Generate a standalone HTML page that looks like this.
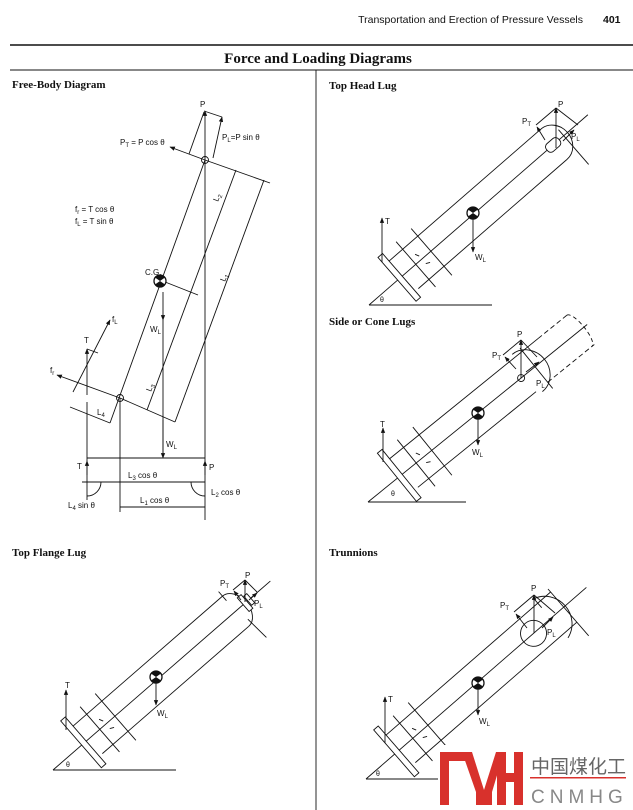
<!DOCTYPE html>
<html><head><meta charset="utf-8"><style>
html,body{margin:0;padding:0;background:#fff;}
svg{display:block;}
text{font-family:"Liberation Sans",sans-serif;fill:#111;}
.s{font-family:"Liberation Serif",serif;font-weight:bold;}
</style></head><body>
<svg width="633" height="810" viewBox="0 0 633 810" xmlns="http://www.w3.org/2000/svg">
<defs>
<marker id="a" viewBox="0 0 10 10" refX="9" refY="5" markerWidth="6" markerHeight="6" orient="auto-start-reverse"><path d="M0,1 L10,5 L0,9 z" fill="#111"/></marker>
<g id="cg"><circle r="6" fill="#fff" stroke="#111" stroke-width="1.3"/><path d="M0,0 L-5,-3.5 A6,6 0 0 1 5,-3.5 Z M0,0 L-5,3.5 A6,6 0 0 0 5,3.5 Z" fill="#111"/></g>
</defs>
<g stroke="#111" fill="none" stroke-width="1">
<!-- header -->
<line x1="10" y1="45" x2="633" y2="45" stroke-width="1.6"/>
<line x1="10" y1="70" x2="633" y2="70" stroke-width="0.9"/>
<line x1="316" y1="70" x2="316" y2="810" stroke-width="0.9"/>
</g>
<text x="583" y="23" font-size="10.5" text-anchor="end">Transportation and Erection of Pressure Vessels</text>
<text x="603" y="23" font-size="10.5" font-weight="bold">401</text>
<text x="318" y="63" font-size="15" text-anchor="middle" class="s">Force and Loading Diagrams</text>
<text x="12" y="88" font-size="11" class="s">Free-Body Diagram</text>
<text x="329" y="89" font-size="11" class="s">Top Head Lug</text>
<text x="329" y="325" font-size="11" class="s">Side or Cone Lugs</text>
<text x="12" y="556" font-size="11" class="s">Top Flange Lug</text>
<text x="329" y="556" font-size="11" class="s">Trunnions</text>

<!-- Free body diagram -->
<g stroke="#111" fill="none" stroke-width="0.9">
<line x1="110" y1="423" x2="205" y2="160"/>
<line x1="147" y1="410" x2="236" y2="170"/>
<line x1="175" y1="422" x2="264" y2="180"/>
<line x1="205" y1="160" x2="170" y2="147" marker-end="url(#a)"/>
<line x1="205" y1="160" x2="270" y2="183"/>
<line x1="155" y1="278" x2="198" y2="295"/>
<line x1="120" y1="398" x2="57" y2="375" marker-end="url(#a)"/>
<line x1="120" y1="398" x2="175" y2="422"/>
<line x1="70" y1="407" x2="110" y2="423"/>
<line x1="73" y1="392" x2="110" y2="320" marker-end="url(#a)"/>
<line x1="87" y1="395" x2="87" y2="349" marker-end="url(#a)"/>
<line x1="87" y1="349" x2="98" y2="353"/>
<line x1="205" y1="160" x2="205" y2="111" marker-end="url(#a)"/>
<line x1="189" y1="154" x2="204" y2="112"/>
<line x1="204" y1="111" x2="222" y2="117"/>
<line x1="213" y1="158" x2="222" y2="117" marker-end="url(#a)"/>
<circle cx="205" cy="160" r="3.5"/>
<circle cx="120" cy="398" r="3.5"/>
<line x1="205" y1="160" x2="205" y2="520"/>
<line x1="120" y1="398" x2="120" y2="512"/>
<line x1="163" y1="292" x2="163" y2="320" marker-end="url(#a)"/>
<line x1="163" y1="320" x2="163" y2="458"/>
<line x1="163" y1="420" x2="163" y2="458" marker-end="url(#a)"/>
<line x1="87" y1="402" x2="87" y2="500"/>
<line x1="87" y1="458" x2="205" y2="458"/>
<line x1="87" y1="475" x2="87" y2="461" marker-end="url(#a)"/>
<line x1="205" y1="475" x2="205" y2="461" marker-end="url(#a)"/>
<line x1="82" y1="482" x2="205" y2="482"/>
<line x1="120" y1="507" x2="205" y2="507"/>
<path d="M87,496 A14,14 0 0 0 101,482"/>
<path d="M205,496 A14,14 0 0 1 191,482"/>
</g>
<use href="#cg" x="160" y="281"/>
<g font-size="8">
<text x="200" y="107">P</text>
<text x="120" y="145">P<tspan font-size="6" dy="2">T</tspan><tspan dy="-2"> = P cos θ</tspan></text>
<text x="222" y="140">P<tspan font-size="6" dy="2">L</tspan><tspan dy="-2">=P sin θ</tspan></text>
<text x="75" y="212">f<tspan font-size="6" dy="2">r</tspan><tspan dy="-2"> = T cos θ</tspan></text>
<text x="75" y="224">f<tspan font-size="6" dy="2">L</tspan><tspan dy="-2"> = T sin θ</tspan></text>
<text x="145" y="275">C.G.</text>
<text x="150" y="332">W<tspan font-size="6" dy="2">L</tspan></text>
<text x="84" y="343">T</text>
<text x="112" y="322">f<tspan font-size="6" dy="2">L</tspan></text>
<text x="50" y="373">f<tspan font-size="6" dy="2">r</tspan></text>
<text x="0" y="0" transform="translate(218,202) rotate(-70)">L<tspan font-size="6" dy="2">2</tspan></text>
<text x="0" y="0" transform="translate(225,282) rotate(-70)">L<tspan font-size="6" dy="2">1</tspan></text>
<text x="0" y="0" transform="translate(151,392) rotate(-70)">L<tspan font-size="6" dy="2">3</tspan></text>
<text x="97" y="415">L<tspan font-size="6" dy="2">4</tspan></text>
<text x="166" y="447">W<tspan font-size="6" dy="2">L</tspan></text>
<text x="77" y="469">T</text>
<text x="209" y="470">P</text>
<text x="128" y="478">L<tspan font-size="6" dy="2">3</tspan><tspan dy="-2"> cos θ</tspan></text>
<text x="211" y="495">L<tspan font-size="6" dy="2">2</tspan><tspan dy="-2"> cos θ</tspan></text>
<text x="68" y="508">L<tspan font-size="6" dy="2">4</tspan><tspan dy="-2"> sin θ</tspan></text>
<text x="140" y="503">L<tspan font-size="6" dy="2">1</tspan><tspan dy="-2"> cos θ</tspan></text>
</g>

<!-- Top Head Lug -->
<g stroke="#111" fill="none" stroke-width="0.9">
<line x1="369" y1="305" x2="492" y2="305"/>
<g transform="translate(369,305) rotate(-41)">
<line x1="0" y1="0" x2="290" y2="0"/>
<line x1="40" y1="-20" x2="245" y2="-20"/>
<line x1="48" y1="20" x2="245" y2="20"/>
<path d="M245,-20 A18,20 0 0 1 245,20"/>
<rect x="236" y="-5" width="16" height="10" rx="4" fill="#fff"/>
<line x1="258" y1="-8" x2="258" y2="38"/>
<rect x="38" y="-30" width="6" height="58" fill="#fff"/>
<line x1="62" y1="-30" x2="62" y2="30"/>
<line x1="82" y1="-30" x2="82" y2="32"/>
<line x1="68" y1="-8" x2="70" y2="-4"/>
<line x1="70" y1="6" x2="74" y2="8"/>
</g>
<line x1="382" y1="262" x2="382" y2="218" marker-end="url(#a)"/>
<line x1="473" y1="213" x2="473" y2="252" marker-end="url(#a)"/>
<line x1="556" y1="148" x2="556" y2="108" marker-end="url(#a)"/>
<line x1="556" y1="108" x2="536" y2="125"/>
<line x1="556" y1="108" x2="578" y2="125"/>
<line x1="545" y1="140" x2="537" y2="127" marker-end="url(#a)"/>
<line x1="563" y1="141" x2="574" y2="130" marker-end="url(#a)"/>
</g>
<use href="#cg" x="473" y="213"/>
<g font-size="8">
<text x="385" y="224">T</text>
<text x="475" y="260">W<tspan font-size="6" dy="2">L</tspan></text>
<text x="558" y="107">P</text>
<text x="522" y="124">P<tspan font-size="6" dy="2">T</tspan></text>
<text x="571" y="139">P<tspan font-size="6" dy="2">L</tspan></text>
<text x="380" y="302" font-size="7">θ</text>
</g>

<!-- Side or Cone Lugs -->
<g stroke="#111" fill="none" stroke-width="0.9">
<line x1="368" y1="502" x2="466" y2="502"/>
<g transform="translate(368,502) rotate(-39)">
<line x1="0" y1="0" x2="282" y2="0"/>
<line x1="40" y1="-20" x2="235" y2="-20"/>
<line x1="48" y1="20" x2="200" y2="20"/>
<path d="M235,-20 L275,-20 M215,20 L275,20" stroke-dasharray="5,3"/>
<path d="M272,-20 A6,20 0 0 1 272,20" stroke-dasharray="4,3"/>
<path d="M205,-24 A22,24 0 0 1 205,24"/>
<line x1="215" y1="-24" x2="215" y2="28"/>
<circle cx="197" cy="0" r="3.5"/>
<rect x="38" y="-32" width="6" height="62" fill="#fff"/>
<line x1="62" y1="-30" x2="62" y2="30"/>
<line x1="82" y1="-30" x2="82" y2="32"/>
<line x1="68" y1="-8" x2="70" y2="-4"/>
<line x1="70" y1="6" x2="74" y2="8"/>
</g>
<line x1="383" y1="462" x2="383" y2="428" marker-end="url(#a)"/>
<line x1="478" y1="413" x2="478" y2="445" marker-end="url(#a)"/>
<line x1="521" y1="378" x2="521" y2="340" marker-end="url(#a)"/>
<line x1="521" y1="340" x2="503" y2="355"/>
<line x1="521" y1="340" x2="537" y2="357"/>
<line x1="516" y1="369" x2="505" y2="357" marker-end="url(#a)"/>
<line x1="526" y1="372" x2="539" y2="362" marker-end="url(#a)"/>
</g>
<use href="#cg" x="478" y="413"/>
<g font-size="8">
<text x="380" y="427">T</text>
<text x="472" y="455">W<tspan font-size="6" dy="2">L</tspan></text>
<text x="517" y="337">P</text>
<text x="492" y="358">P<tspan font-size="6" dy="2">T</tspan></text>
<text x="536" y="386">P<tspan font-size="6" dy="2">L</tspan></text>
<text x="391" y="496" font-size="7">θ</text>
</g>

<!-- Top Flange Lug -->
<g stroke="#111" fill="none" stroke-width="0.9">
<line x1="53" y1="770" x2="176" y2="770"/>
<g transform="translate(53,770) rotate(-41)">
<line x1="0" y1="0" x2="288" y2="0"/>
<line x1="40" y1="-20" x2="242" y2="-20"/>
<line x1="48" y1="20" x2="242" y2="20"/>
<path d="M242,-20 A14,20 0 0 1 242,20"/>
<line x1="242" y1="-26" x2="242" y2="-14"/>
<line x1="246" y1="14" x2="248" y2="40"/>
<rect x="252" y="-9" width="5" height="18" fill="#fff"/>
<rect x="258" y="-6" width="4" height="12" fill="#fff"/>
<rect x="38" y="-32" width="6" height="62" fill="#fff"/>
<line x1="62" y1="-30" x2="62" y2="30"/>
<line x1="82" y1="-30" x2="82" y2="32"/>
<line x1="68" y1="-8" x2="70" y2="-4"/>
<line x1="70" y1="6" x2="74" y2="8"/>
</g>
<line x1="66" y1="730" x2="66" y2="690" marker-end="url(#a)"/>
<line x1="156" y1="677" x2="156" y2="705" marker-end="url(#a)"/>
<line x1="245" y1="602" x2="245" y2="580" marker-end="url(#a)"/>
<line x1="245" y1="580" x2="233" y2="590"/>
<line x1="245" y1="580" x2="257" y2="592"/>
<line x1="241" y1="600" x2="234" y2="591" marker-end="url(#a)"/>
<line x1="249" y1="600" x2="257" y2="593" marker-end="url(#a)"/>
</g>
<use href="#cg" x="156" y="677"/>
<g font-size="8">
<text x="65" y="688">T</text>
<text x="157" y="716">W<tspan font-size="6" dy="2">L</tspan></text>
<text x="245" y="578">P</text>
<text x="220" y="586">P<tspan font-size="6" dy="2">T</tspan></text>
<text x="254" y="606">P<tspan font-size="6" dy="2">L</tspan></text>
<text x="66" y="767" font-size="7">θ</text>
</g>

<!-- Trunnions -->
<g stroke="#111" fill="none" stroke-width="0.9">
<line x1="366" y1="779" x2="440" y2="779"/>
<g transform="translate(366,779) rotate(-41)">
<line x1="0" y1="0" x2="292" y2="0"/>
<line x1="40" y1="-20" x2="262" y2="-20"/>
<line x1="48" y1="20" x2="262" y2="20"/>
<path d="M245,-26 A26,27 0 0 1 245,26"/>
<line x1="245" y1="-26" x2="245" y2="-14"/>
<line x1="262" y1="-24" x2="262" y2="38"/>
<circle cx="222" cy="0" r="13"/>
<rect x="38" y="-32" width="6" height="62" fill="#fff"/>
<line x1="62" y1="-30" x2="62" y2="30"/>
<line x1="82" y1="-30" x2="82" y2="32"/>
<line x1="68" y1="-8" x2="70" y2="-4"/>
<line x1="70" y1="6" x2="74" y2="8"/>
</g>
<line x1="385" y1="743" x2="385" y2="697" marker-end="url(#a)"/>
<line x1="478" y1="683" x2="478" y2="715" marker-end="url(#a)"/>
<line x1="534" y1="633" x2="534" y2="595" marker-end="url(#a)"/>
<line x1="534" y1="595" x2="514" y2="612"/>
<line x1="534" y1="595" x2="555" y2="613"/>
<line x1="527" y1="628" x2="516" y2="614" marker-end="url(#a)"/>
<line x1="542" y1="628" x2="553" y2="617" marker-end="url(#a)"/>
</g>
<use href="#cg" x="478" y="683"/>
<g font-size="8">
<text x="388" y="702">T</text>
<text x="479" y="724">W<tspan font-size="6" dy="2">L</tspan></text>
<text x="531" y="591">P</text>
<text x="500" y="608">P<tspan font-size="6" dy="2">T</tspan></text>
<text x="547" y="635">P<tspan font-size="6" dy="2">L</tspan></text>
<text x="376" y="776" font-size="7">θ</text>
</g>

<!-- logo -->
<rect x="438" y="745" width="195" height="65" fill="#fff"/>
<g fill="#d8312c">
<rect x="440" y="752" width="9" height="53"/>
<rect x="440" y="752" width="28" height="9"/>
<polygon points="462,752 472,752 484,790 484,805 476,805 476,792"/>
<polygon points="484,790 496,752 504,752 492,792 492,805 484,805"/>
<rect x="497" y="752" width="9" height="53"/>
<rect x="497" y="773" width="26" height="9"/>
<rect x="514" y="752" width="9" height="53"/>
</g>
<rect x="530" y="777" width="96" height="1.5" fill="#d8312c"/>
<text x="531" y="773" font-size="19" fill="#666" style="font-family:'Liberation Sans','Noto Sans CJK SC',sans-serif;fill:#666">中国煤化工</text>
<text x="531" y="803" font-size="19" style="fill:#888;letter-spacing:5px">CNMHG</text>
</svg>
</body></html>
